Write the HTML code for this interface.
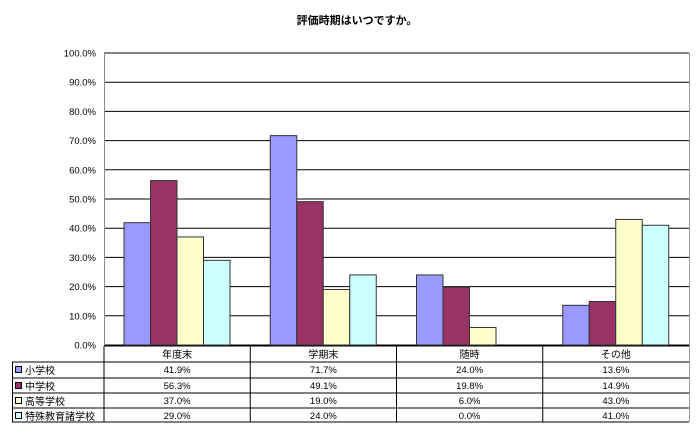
<!DOCTYPE html><html><head><meta charset="utf-8"><style>body{margin:0;background:#fff}</style></head><body>
<svg width="700" height="434" xmlns="http://www.w3.org/2000/svg" font-family="Liberation Sans, Noto Sans CJK JP, sans-serif" font-size="10">
<text x="357" y="24" text-anchor="middle" font-weight="bold" font-size="11">評価時期はいつですか。</text>
<g stroke="#000" stroke-width="1">
<line x1="104" x2="689" y1="345" y2="345"/><line x1="104" x2="689" y1="315.8" y2="315.8"/><line x1="104" x2="689" y1="286.6" y2="286.6"/><line x1="104" x2="689" y1="257.4" y2="257.4"/><line x1="104" x2="689" y1="228.2" y2="228.2"/><line x1="104" x2="689" y1="199" y2="199"/><line x1="104" x2="689" y1="169.8" y2="169.8"/><line x1="104" x2="689" y1="140.6" y2="140.6"/><line x1="104" x2="689" y1="111.4" y2="111.4"/><line x1="104" x2="689" y1="82.2" y2="82.2"/><line x1="104" x2="689" y1="53" y2="53"/>
</g>
<g font-size="9.5" text-anchor="end">
<text x="96" y="348.5">0.0%</text><text x="96" y="319.3">10.0%</text><text x="96" y="290.1">20.0%</text><text x="96" y="260.9">30.0%</text><text x="96" y="231.7">40.0%</text><text x="96" y="202.5">50.0%</text><text x="96" y="173.3">60.0%</text><text x="96" y="144.1">70.0%</text><text x="96" y="114.9">80.0%</text><text x="96" y="85.7">90.0%</text><text x="96" y="56.5">100.0%</text>
</g>
<line x1="104.5" x2="104.5" y1="53" y2="346" stroke="#888"/><line x1="689.5" x2="689.5" y1="53" y2="422" stroke="#999"/>
<g stroke="#333" stroke-width="1">
<rect x="124" y="222.65" width="26.5" height="122.35" fill="#9999FF"/>
<rect x="150.5" y="180.6" width="26.5" height="164.4" fill="#993366"/>
<rect x="177" y="236.96" width="26.5" height="108.04" fill="#FFFFCC"/>
<rect x="203.5" y="260.32" width="26.5" height="84.68" fill="#CCFFFF"/>
<rect x="270.25" y="135.64" width="26.5" height="209.36" fill="#9999FF"/>
<rect x="296.75" y="201.63" width="26.5" height="143.37" fill="#993366"/>
<rect x="323.25" y="289.52" width="26.5" height="55.48" fill="#FFFFCC"/>
<rect x="349.75" y="274.92" width="26.5" height="70.08" fill="#CCFFFF"/>
<rect x="416.5" y="274.92" width="26.5" height="70.08" fill="#9999FF"/>
<rect x="443" y="287.18" width="26.5" height="57.82" fill="#993366"/>
<rect x="469.5" y="327.48" width="26.5" height="17.52" fill="#FFFFCC"/>
<rect x="562.75" y="305.29" width="26.5" height="39.71" fill="#9999FF"/>
<rect x="589.25" y="301.49" width="26.5" height="43.51" fill="#993366"/>
<rect x="615.75" y="219.44" width="26.5" height="125.56" fill="#FFFFCC"/>
<rect x="642.25" y="225.28" width="26.5" height="119.72" fill="#CCFFFF"/>
</g>
<g stroke="#000" stroke-width="1">
<line x1="104" x2="689" y1="346" y2="346"/>
<line x1="12" x2="689" y1="362" y2="362"/><line x1="12" x2="689" y1="378" y2="378"/><line x1="12" x2="689" y1="393" y2="393"/><line x1="12" x2="689" y1="408" y2="408"/><line x1="12" x2="689" y1="422" y2="422"/>
<line x1="12.5" x2="12.5" y1="362" y2="422"/>
<line x1="104" x2="104" y1="346" y2="422"/><line x1="250.25" x2="250.25" y1="346" y2="422"/><line x1="396.5" x2="396.5" y1="346" y2="422"/><line x1="542.75" x2="542.75" y1="346" y2="422"/>
</g>
<g text-anchor="middle">
<text x="177.1" y="358">年度末</text><text x="323.4" y="358">学期末</text><text x="469.6" y="358">随時</text><text x="615.9" y="358">その他</text>
</g>
<g text-anchor="middle" font-size="9.5">
<text x="177.1" y="373">41.9%</text><text x="323.4" y="373">71.7%</text><text x="469.6" y="373">24.0%</text><text x="615.9" y="373">13.6%</text>
<text x="177.1" y="389">56.3%</text><text x="323.4" y="389">49.1%</text><text x="469.6" y="389">19.8%</text><text x="615.9" y="389">14.9%</text>
<text x="177.1" y="404">37.0%</text><text x="323.4" y="404">19.0%</text><text x="469.6" y="404">6.0%</text><text x="615.9" y="404">43.0%</text>
<text x="177.1" y="419">29.0%</text><text x="323.4" y="419">24.0%</text><text x="469.6" y="419">0.0%</text><text x="615.9" y="419">41.0%</text>
</g>
<g stroke="#000">
<rect x="15.5" y="366.5" width="6" height="6" fill="#9999FF"/>
<rect x="15.5" y="382.5" width="6" height="6" fill="#993366"/>
<rect x="15.5" y="397.5" width="6" height="6" fill="#FFFFCC"/>
<rect x="15.5" y="412.5" width="6" height="6" fill="#CCFFFF"/>
</g>
<text x="25" y="374">小学校</text>
<text x="25" y="390">中学校</text>
<text x="25" y="405">高等学校</text>
<text x="25" y="420">特殊教育諸学校</text>
</svg></body></html>
